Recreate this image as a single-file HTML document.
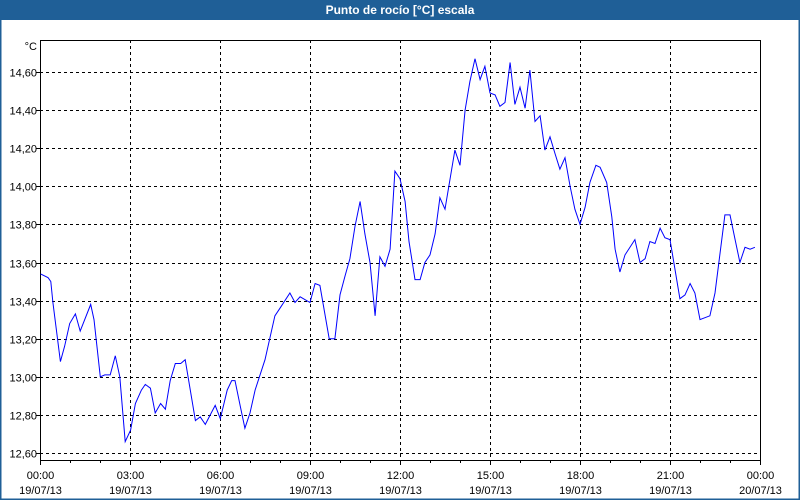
<!DOCTYPE html>
<html><head><meta charset="utf-8">
<style>
html,body{margin:0;padding:0;background:#fff;}
#wrap{position:relative;width:800px;height:500px;overflow:hidden;font-family:"Liberation Sans",sans-serif;}
#title{position:absolute;left:0;top:0;width:800px;height:20px;background:#1f5f97;color:#fff;font-weight:bold;font-size:12px;line-height:20px;text-align:center;}
svg{position:absolute;left:0;top:0;}
</style></head><body>
<div id="wrap">
<div id="title">Punto de rocío [°C] escala</div>
<svg id="chart" width="800" height="500"></svg>
</div>
<script>
const yTicks = [12.60,12.80,13.00,13.20,13.40,13.60,13.80,14.00,14.20,14.40,14.60];
const yTickLabels = ["12,60","12,80","13,00","13,20","13,40","13,60","13,80","14,00","14,20","14,40","14,60"];
const xTicks = [0,3,6,9,12,15,18,21,24];
const xTimeLabels = ["00:00","03:00","06:00","09:00","12:00","15:00","18:00","21:00","00:00"];
const xDateLabels = ["19/07/13","19/07/13","19/07/13","19/07/13","19/07/13","19/07/13","19/07/13","19/07/13","20/07/13"];
const times = [0.02,0.27,0.36,0.43,0.68,0.82,0.99,1.18,1.34,1.69,1.80,2.01,2.16,2.34,2.51,2.66,2.84,3.02,3.18,3.38,3.51,3.68,3.84,4.02,4.18,4.34,4.51,4.69,4.84,5.18,5.34,5.51,5.84,6.01,6.24,6.39,6.50,6.67,6.83,7.00,7.17,7.50,7.83,8.00,8.33,8.50,8.67,9.00,9.17,9.33,9.64,9.83,10.00,10.17,10.33,10.50,10.67,10.83,11.00,11.17,11.33,11.50,11.67,11.83,12.00,12.17,12.30,12.50,12.67,12.83,13.00,13.17,13.33,13.50,13.83,14.00,14.17,14.33,14.50,14.67,14.83,15.00,15.17,15.33,15.50,15.67,15.83,16.00,16.17,16.33,16.50,16.67,16.83,17.00,17.17,17.33,17.50,17.67,17.83,18.00,18.17,18.33,18.53,18.67,18.89,19.06,19.17,19.33,19.50,19.83,20.00,20.17,20.33,20.50,20.67,20.83,21.00,21.33,21.50,21.67,21.83,22.00,22.33,22.50,22.83,23.00,23.17,23.33,23.50,23.67,23.83];
const values = [13.54,13.52,13.50,13.39,13.08,13.16,13.28,13.33,13.24,13.38,13.30,13.00,13.01,13.01,13.11,13.00,12.66,12.72,12.86,12.93,12.96,12.94,12.81,12.86,12.83,12.98,13.07,13.07,13.09,12.77,12.79,12.75,12.85,12.78,12.93,12.98,12.98,12.85,12.73,12.81,12.93,13.09,13.32,13.36,13.44,13.39,13.42,13.39,13.49,13.48,13.20,13.20,13.43,13.53,13.62,13.79,13.92,13.75,13.60,13.32,13.63,13.58,13.67,14.08,14.04,13.92,13.71,13.51,13.51,13.60,13.64,13.75,13.94,13.88,14.19,14.11,14.40,14.55,14.67,14.56,14.63,14.49,14.48,14.42,14.44,14.65,14.43,14.52,14.41,14.61,14.34,14.37,14.19,14.26,14.17,14.09,14.15,14.00,13.88,13.80,13.89,14.02,14.11,14.10,14.02,13.84,13.67,13.55,13.64,13.72,13.60,13.62,13.71,13.70,13.78,13.73,13.72,13.41,13.43,13.49,13.44,13.30,13.32,13.44,13.85,13.85,13.72,13.60,13.68,13.67,13.68];

const L=40,R=760,T=40,B=460;
const xs = t => L + (t/24)*(R-L);
const ys = v => 72 + (14.60 - v)/2.0*381;
const NS="http://www.w3.org/2000/svg";
const svg=document.getElementById('chart');
function mk(tag,attrs){const e=document.createElementNS(NS,tag);for(const k in attrs)e.setAttribute(k,attrs[k]);svg.appendChild(e);return e;}

// frame border
const fr=mk('rect',{x:0.5,y:0.5,width:799,height:499,fill:'none',stroke:'#1f5f97','stroke-width':2});



// horizontal grid + y labels
yTicks.forEach((v,i)=>{
  const y=Math.round(ys(v))+0.5;
  const g=mk('line',{x1:L,x2:R,y1:y,y2:y,stroke:'#000','stroke-dasharray':'3,3','stroke-width':1});
  
  
  const tk=mk('line',{x1:L-4,x2:L,y1:y,y2:y,stroke:'#000'});
  
  
  const t=mk('text',{x:L-3,y:y+4,'text-anchor':'end','font-size':11,fill:'#000','font-family':'Liberation Sans, sans-serif'});
  t.textContent=yTickLabels[i];
  
  
});
// vertical grid + x labels
xTicks.forEach((h,i)=>{
  const x=Math.round(xs(h))+0.5;
  if(i>0&&i<xTicks.length-1){
    const g=mk('line',{x1:x,x2:x,y1:T,y2:B,stroke:'#000','stroke-dasharray':'3,3'});
    
    
  }
  const tk=mk('line',{x1:x,x2:x,y1:B,y2:B+5,stroke:'#000'});
  
  
  const t1=mk('text',{x:x,y:479,'text-anchor':'middle','font-size':11,fill:'#000','font-family':'Liberation Sans, sans-serif'});
  t1.textContent=xTimeLabels[i];
  
  
  const t2=mk('text',{x:x,y:494,'text-anchor':'middle','font-size':11,fill:'#000','font-family':'Liberation Sans, sans-serif'});
  t2.textContent=xDateLabels[i];
  
  
});
// minor hourly ticks
for(let h=1;h<24;h++){ if(h%3===0)continue;
  const x=Math.round(xs(h))+0.5;
  const m=mk('line',{x1:x,x2:x,y1:B,y2:B+3,stroke:'#000'});
  
  
}
// axes box
const ax=mk('path',{d:`M${L+0.5},${T} V${B+0.5} H${R+0.5} V${T+0.5} H${L}`,fill:'none',stroke:'#000','stroke-width':1});


// unit
const u=mk('text',{x:L-3,y:50,'text-anchor':'end','font-size':11,fill:'#000','font-family':'Liberation Sans, sans-serif'});
u.textContent='°C';


// series
const pts=times.map((t,i)=>xs(t).toFixed(1)+','+ys(values[i]).toFixed(1)).join(' ');
const pl=mk('polyline',{points:pts,fill:'none',stroke:'#0000ff','stroke-width':1});


</script>
</body></html>
